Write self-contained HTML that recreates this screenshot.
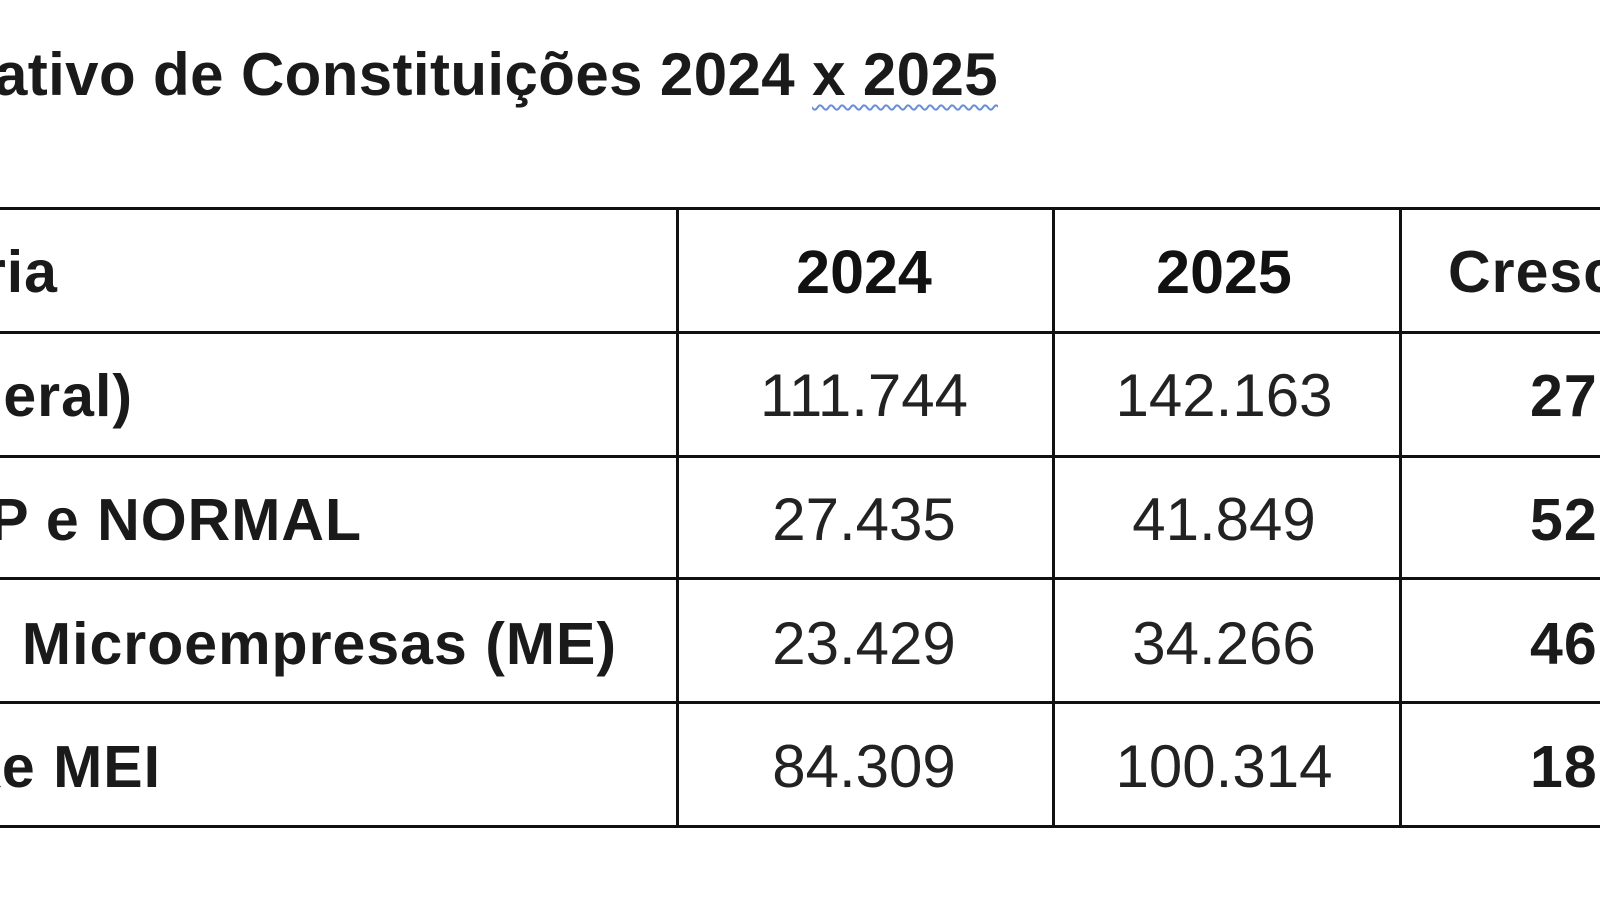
<!DOCTYPE html>
<html><head><meta charset="utf-8"><style>
body{margin:0;width:1600px;height:900px;background:#fff;overflow:hidden;position:relative;font-family:"Liberation Sans",Arial,sans-serif;color:#1a1a1a}
.t{position:absolute;white-space:nowrap;line-height:1;height:70px;display:flex;align-items:center}
.b{font-weight:bold}
.n{font-size:60px;color:#222;width:400px;justify-content:center}
.l{font-size:59px;letter-spacing:1px}
.h{position:absolute;left:0;width:1600px;height:3px;background:#111}
.v{position:absolute;top:207px;height:621px;width:3px;background:#111}
</style></head><body>
<div class="t b" style="right:602px;top:40px;font-size:60px;letter-spacing:0.4px">ativo de Constituições 2024&nbsp;<span style="text-decoration:underline wavy #6a8fd8;text-decoration-thickness:2px;text-underline-offset:9px">x 2025</span></div>

<div class="h" style="top:207px"></div>
<div class="h" style="top:331px"></div>
<div class="h" style="top:455px"></div>
<div class="h" style="top:577px"></div>
<div class="h" style="top:701px"></div>
<div class="h" style="top:825px"></div>
<div class="v" style="left:676px"></div>
<div class="v" style="left:1052px"></div>
<div class="v" style="left:1399px"></div>

<div class="t b l" style="right:1542px;top:237px">ria</div>
<div class="t b n" style="left:664px;top:237px;font-size:61px;color:#111">2024</div>
<div class="t b n" style="left:1024px;top:237px;font-size:61px;color:#111">2025</div>
<div class="t b l" style="left:1448px;top:237px">Cresc</div>

<div class="t b l" style="right:1467px;top:361px">eral)</div>
<div class="t n" style="left:664px;top:361px">111.744</div>
<div class="t n" style="left:1024px;top:361px">142.163</div>
<div class="t b l" style="left:1530px;top:361px">27</div>

<div class="t b l" style="right:1238px;top:485px">P e NORMAL</div>
<div class="t n" style="left:664px;top:485px">27.435</div>
<div class="t n" style="left:1024px;top:485px">41.849</div>
<div class="t b l" style="left:1530px;top:485px">52</div>

<div class="t b l" style="right:983px;top:609px">Microempresas (ME)</div>
<div class="t n" style="left:664px;top:609px">23.429</div>
<div class="t n" style="left:1024px;top:609px">34.266</div>
<div class="t b l" style="left:1530px;top:609px">46</div>

<div class="t b l" style="right:1439px;top:732px">ke MEI</div>
<div class="t n" style="left:664px;top:732px">84.309</div>
<div class="t n" style="left:1024px;top:732px">100.314</div>
<div class="t b l" style="left:1530px;top:732px">18</div>
</body></html>
